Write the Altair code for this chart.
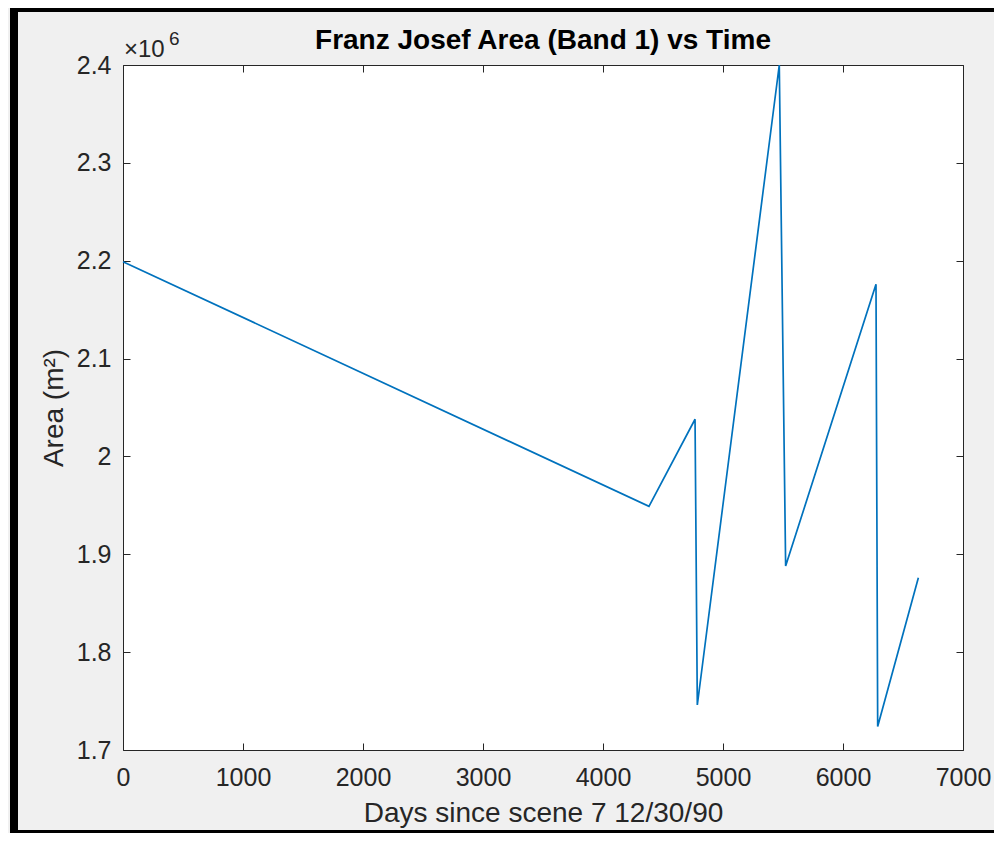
import altair as alt
import pandas as pd

# Data
days = [0, 4383, 4767, 4786, 5469, 5522, 6275, 6289, 6628]
area_m2 = [2199000, 1949000, 2038000, 1746000, 2400000, 1888000, 2176000, 1724000, 1876000]

x_ticks = [0, 1000, 2000, 3000, 4000, 5000, 6000, 7000]
y_ticks = [1700000, 1800000, 1900000, 2000000, 2100000, 2200000, 2300000, 2400000]

title_text = "Franz Josef Area (Band 1) vs Time"
x_title = "Days since scene 7 12/30/90"
y_title = "Area (m²)"
exp_base = "×10"
exp_power = "6"

df = pd.DataFrame({"days": days, "area": area_m2})

W, H = 840, 685
FONT = "Liberation Sans"
AX = "#262626"

xs = alt.Scale(domain=[0, 7000], nice=False, zero=False)
ys = alt.Scale(domain=[1700000, 2400000], nice=False, zero=False)

y_fmt = "format(datum.value / 1000000, '.2~f')"

base = alt.Chart(df)

line = base.mark_line(color="#0072BD", strokeWidth=1.7).encode(
    x=alt.X("days:Q", scale=xs, axis=alt.Axis(
        values=x_ticks, format="d", title=x_title, ticks=False, tickSize=0, domain=False, grid=False,
        labelFontSize=25, labelColor=AX, labelFont=FONT, labelPadding=15,
        titleFontSize=28, titleFontWeight="normal", titleColor=AX, titleFont=FONT,
        titleBaseline="alphabetic", titleY=71, labelFlush=False)),
    y=alt.Y("area:Q", scale=ys, axis=alt.Axis(
        values=y_ticks, labelExpr=y_fmt, title=y_title, ticks=False, tickSize=0, domain=False,
        grid=False, labelFontSize=25, labelColor=AX, labelFont=FONT, labelPadding=12,
        titleFontSize=28, titleFontWeight="normal", titleColor=AX, titleFont=FONT,
        titleBaseline="alphabetic", titleX=-61, titleAngle=270, labelFlush=False)),
)

ticks_a = base.mark_line(strokeOpacity=0).encode(
    x=alt.X("days:Q", scale=xs, axis=alt.Axis(
        orient="top", offset=-H, values=x_ticks, labels=False, domain=False, grid=False,
        ticks=True, tickSize=7, tickColor=AX, tickWidth=1, title=None)),
    y=alt.Y("area:Q", scale=ys, axis=alt.Axis(
        orient="right", offset=-W, values=y_ticks, labels=False, domain=False, grid=False,
        ticks=True, tickSize=7, tickColor=AX, tickWidth=1, title=None)),
)

ticks_b = base.mark_line(strokeOpacity=0).encode(
    x=alt.X("days:Q", scale=xs, axis=alt.Axis(
        orient="bottom", offset=-H, values=x_ticks, labels=False, domain=False, grid=False,
        ticks=True, tickSize=7, tickColor=AX, tickWidth=1, title=None)),
    y=alt.Y("area:Q", scale=ys, axis=alt.Axis(
        orient="left", offset=-W, values=y_ticks, labels=False, domain=False, grid=False,
        ticks=True, tickSize=7, tickColor=AX, tickWidth=1, title=None)),
)

exp_text = alt.Chart(pd.DataFrame({"t": [exp_base]})).mark_text(
    align="left", baseline="alphabetic", fontSize=24, font=FONT, color=AX, dx=1, dy=-8
).encode(
    x=alt.XDatum(0, axis=None),
    y=alt.YDatum(2400000, axis=None),
    text="t:N",
)

exp_pow = alt.Chart(pd.DataFrame({"t": [exp_power]})).mark_text(
    align="left", baseline="alphabetic", fontSize=19, font=FONT, color=AX, dx=46, dy=-20
).encode(
    x=alt.XDatum(0, axis=None),
    y=alt.YDatum(2400000, axis=None),
    text="t:N",
)

frame = alt.Chart(pd.DataFrame({"a": [0]})).mark_rect(
    filled=False, stroke="black", strokeWidth=8
).encode(
    x=alt.value(-109), x2=alt.value(890), y=alt.value(-57), y2=alt.value(769)
)

chart = alt.layer(line, ticks_a, ticks_b, exp_text, exp_pow, frame).resolve_axis(
    x="independent", y="independent"
).properties(
    width=W, height=H,
    autosize=alt.AutoSizeParams(type="none"),
    padding={"left": 115, "top": 57, "right": 31, "bottom": 83},
    title=alt.TitleParams(title_text, fontSize=28, font=FONT, fontWeight="bold",
                          color="black", anchor="middle", baseline="alphabetic",
                          offset=0, dy=73),
).configure(
    background="#f0f0f0",
).configure_view(
    stroke=AX, strokeWidth=1, fill="white",
)

chart.save("out.html", embed_options={"renderer": "svg", "actions": False})
